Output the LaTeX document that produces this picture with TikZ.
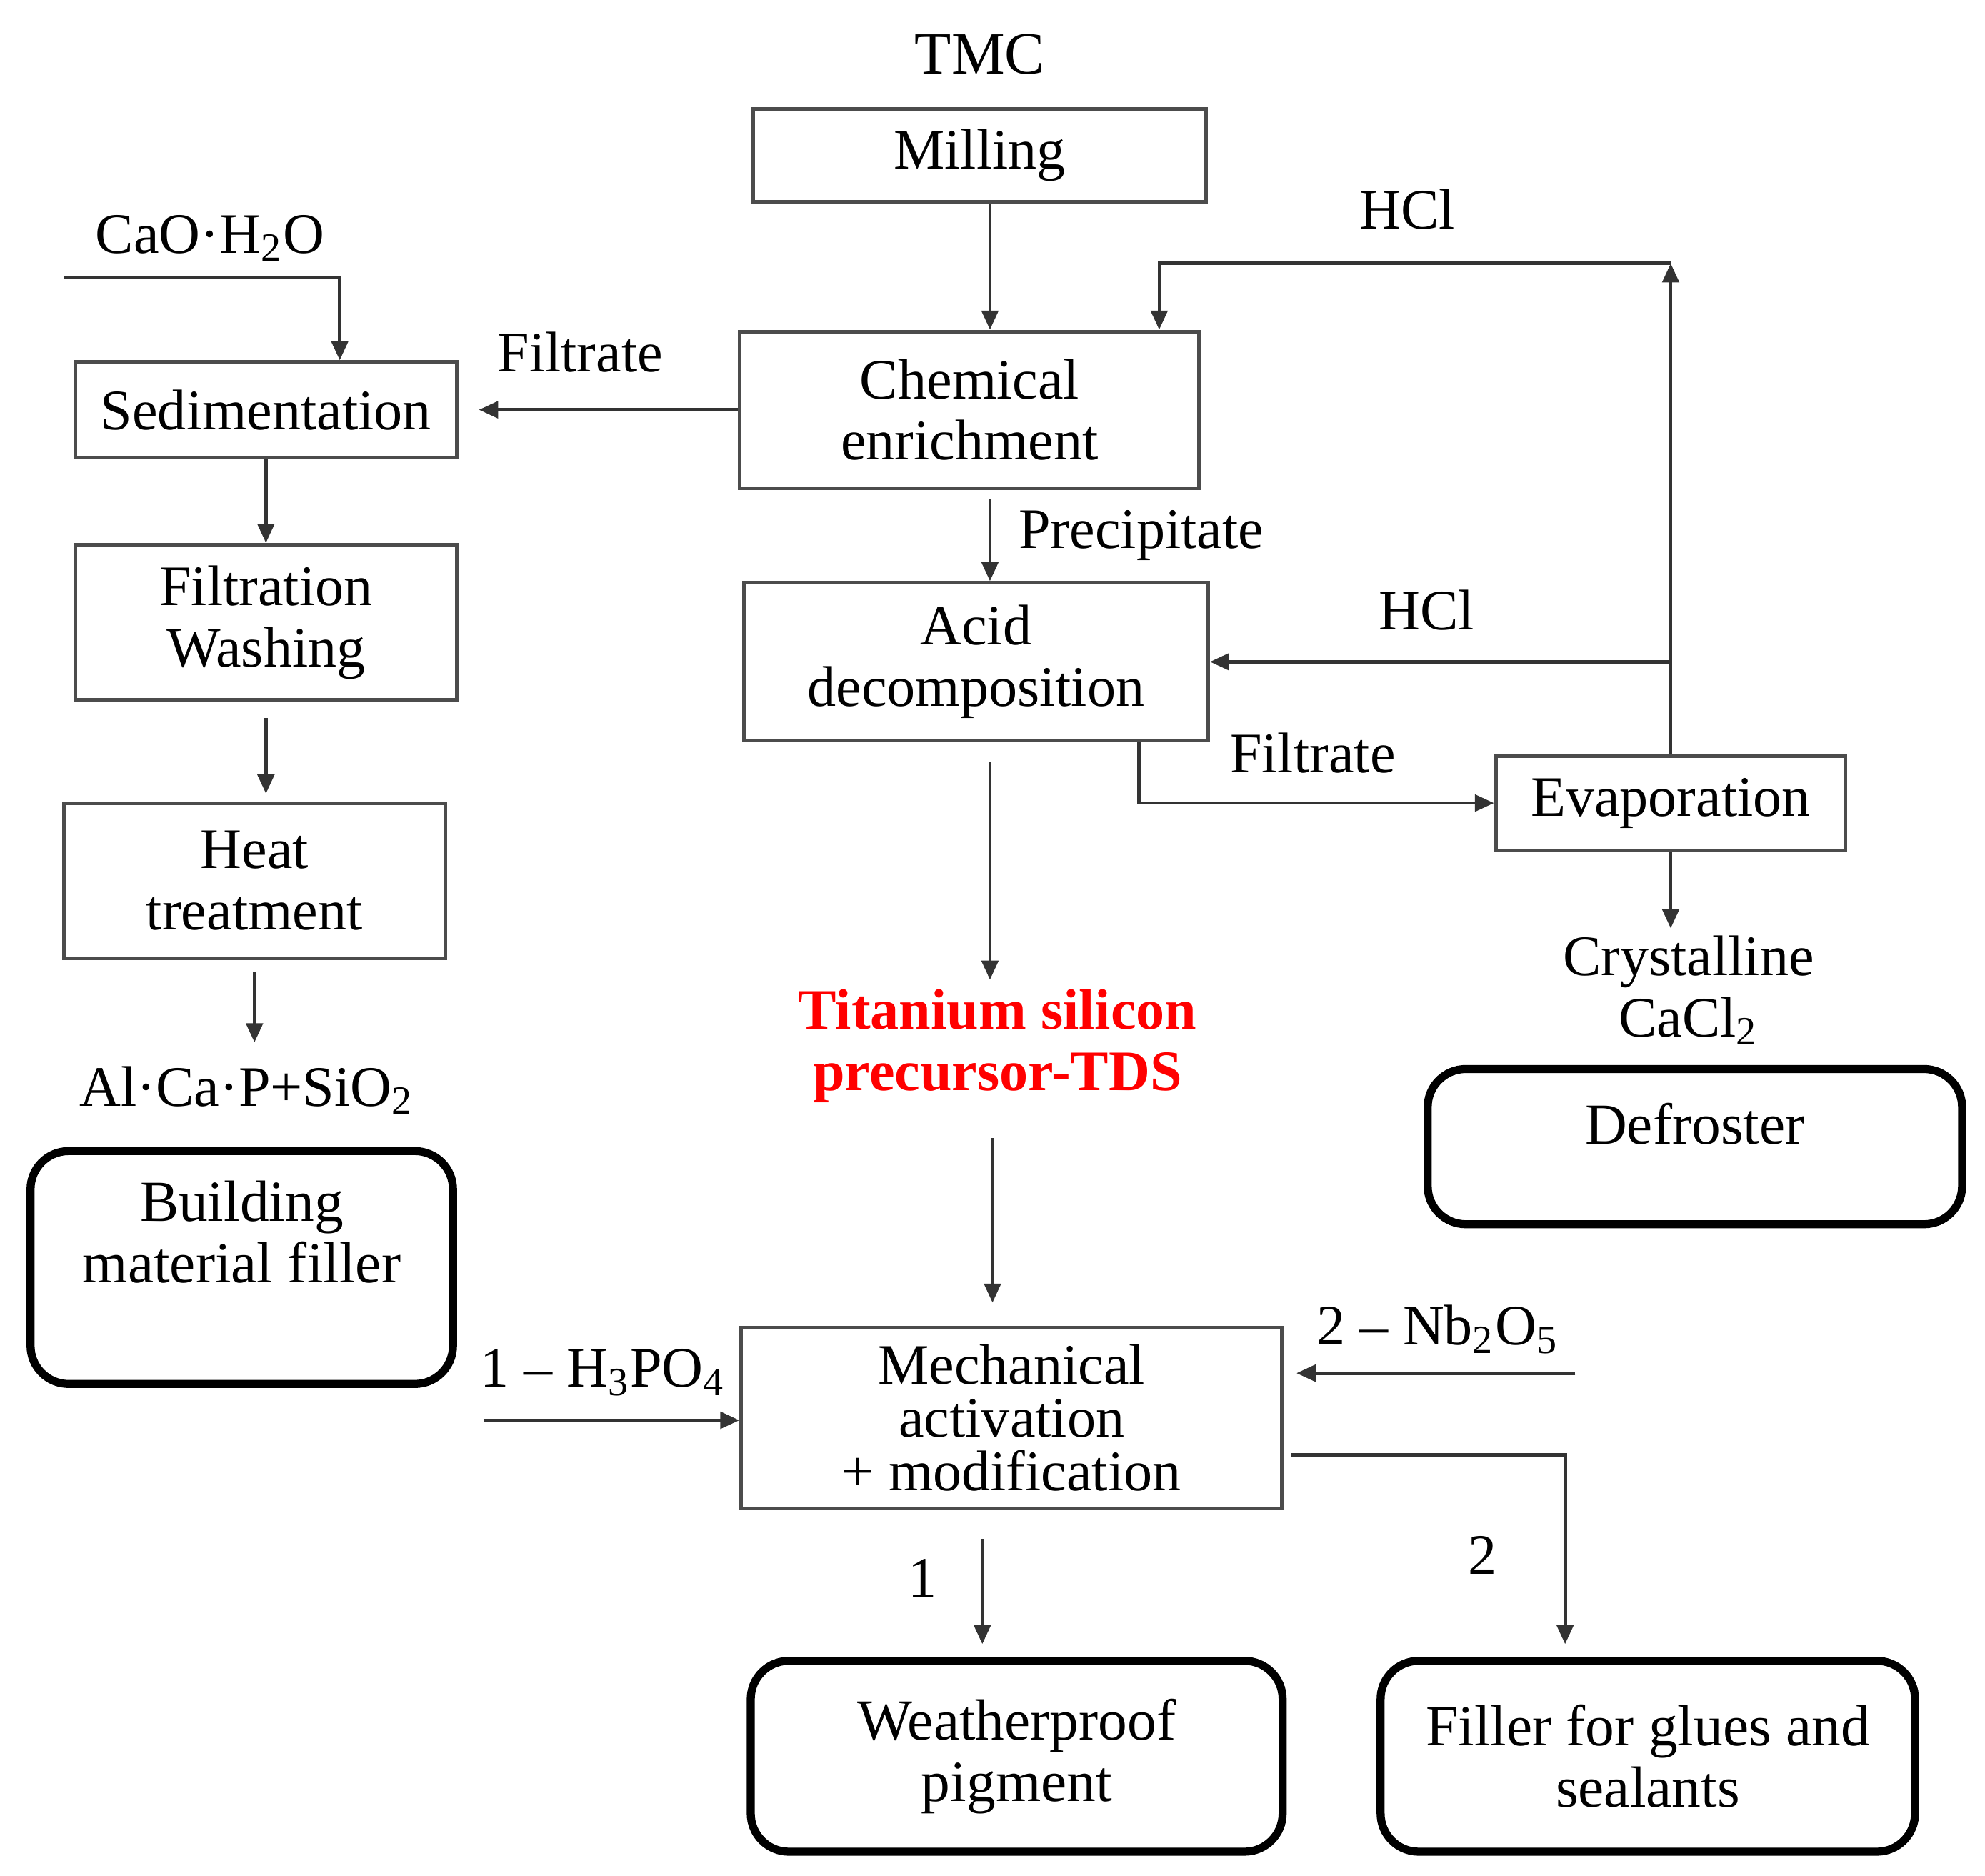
\documentclass[tikz,border=0pt]{standalone}
\usepackage{fontspec}
\setmainfont{Liberation Serif}
\usetikzlibrary{arrows.meta}

\begin{document}
\begin{tikzpicture}[x=0.1mm, y=-0.1mm, >={Triangle[length=1.5mm,width=1.3mm]}]
    \useasboundingbox (0,0) rectangle (1560,1473.6);

    \begin{scope}[every node/.style={draw=black!70,line width=0.8pt,inner sep=0pt,align=center,font=\fontsize{12.8}{13.7}\selectfont}]
        \node[minimum width=35.6mm,minimum height=7.3mm] (mill) at (770,122) {Milling};
        \node[minimum width=36.1mm,minimum height=12.3mm] (chem) at (762,322) {Chemical\\enrichment};
        \node[minimum width=30mm,minimum height=7.5mm] (sed) at (209,322) {Sedimentation};
        \node[minimum width=30mm,minimum height=12.2mm] (filt) at (209,489) {Filtration\\Washing};
        \node[minimum width=30mm,minimum height=12.2mm] (heat) at (200,692) {Heat\\treatment};
        \node[minimum width=36.5mm,minimum height=12.4mm] (acid) at (767,520) {Acid\\decomposition};
        \node[minimum width=27.5mm,minimum height=7.4mm] (evap) at (1313,631) {Evaporation};
        \node[minimum width=42.5mm,minimum height=14.2mm,font=\fontsize{12.8}{11.9}\selectfont] (mech) at (795,1114) {Mechanical\\activation\\+ modification};
    \end{scope}

    \begin{scope}[every node/.style={draw,line width=1.8pt,rounded corners=3mm,inner sep=0pt,align=center,font=\fontsize{13}{13.7}\selectfont}]
        \node[minimum width=33.2mm,minimum height=18.3mm] (build) at (190,996) {Building\\material filler\\[0.8mm]\mbox{}};
        \node[minimum width=42mm,minimum height=12.2mm,text depth=3.6mm] (defr) at (1332,901) {Defroster};
        \node[minimum width=41.8mm,minimum height=15mm] (weather) at (799,1380) {Weatherproof\\pigment};
        \node[minimum width=42mm,minimum height=15mm] (filler) at (1295,1380) {Filler for glues and\\sealants};
    \end{scope}

    \begin{scope}[every node/.style={inner sep=0pt,align=center,font=\fontsize{12.8}{13.7}\selectfont}]
        \node[anchor=base,font=\fontsize{13.4}{14}\selectfont] (tmc) at (770,58) {TMC};
        \node[anchor=base] (hcla) at (1106,180) {HCl};
        \node[anchor=base] (hclb) at (1121,495) {HCl};
        \node[anchor=base] (filtra) at (456,292) {Filtrate};
        \node[anchor=base] (cao) at (165,199) {CaO·H\textsubscript{2}O};
        \node[anchor=base west] (prec) at (800,431) {Precipitate};
        \node[anchor=base west] (filtrb) at (966,607) {Filtrate};
        \node (cacl) at (1327,778) {Crystalline\\CaCl\textsubscript{2}};
        \node[anchor=base] (alcap) at (194,869) {Al·Ca·P+SiO\textsubscript{2}};
        \node[text=red,font=\fontsize{12.8}{13.7}\selectfont\bfseries] (tds) at (784,822) {Titanium silicon\\precursor-TDS};
        \node[anchor=base] (hpo) at (474,1090) {1 – H\textsubscript{3}PO\textsubscript{4}};
        \node[anchor=base] (nbo) at (1130,1057) {2 – Nb\textsubscript{2}O\textsubscript{5}};
        \node[anchor=base] (one) at (725,1255) {1};
        \node[anchor=base] (two) at (1165,1237) {2};
    \end{scope}

    \begin{scope}[draw=black!80,line width=0.75pt]
        % main line
        \coordinate (mx) at (778,0);
        \coordinate (tx) at (780,0);
        \draw[->] (mill.south -| mx) -- (chem.north -| mx);
        \draw[->,shorten <=0.7mm] (chem.south -| mx) -- (acid.north -| mx);
        \draw[->,shorten <=1.5mm,shorten >=0.7mm] (acid.south -| mx) -- (tds.north -| mx);
        \draw[->,shorten <=2.7mm,shorten >=1.8mm] (tds.south -| tx) -- (mech.north -| tx);

        % HCl back to the start
        \coordinate (hcltop) at (1313,207);
        \coordinate (hclin) at (911,207);
        \draw[->] (evap.north) -- (hcltop);
        \draw[->] (hcltop) -- (hclin) -- (hclin |- chem.north);
        \draw[->] (evap.north |- acid.east) -- (acid.east);

        % filtrates
        \coordinate (fx) at (895,0);
        \draw[->,shorten >=1.6mm] (chem.west) -- (sed.east);
        \draw[->] (acid.south -| fx) |- (evap.west);
        \draw[->,shorten >=0.5mm] (evap.south) -- (evap.south |- cacl.north);

        % left column
        \coordinate (caostart) at (50,218);
        \coordinate (caoin) at (267,218);
        \draw[->] (caostart) -- (caoin) -- (caoin |- sed.north);
        \draw[->] (sed.south) -- (filt.north);
        \draw[->,shorten <=1.3mm,shorten >=0.6mm] (filt.south) -- (filt.south |- heat.north);
        \draw[->,shorten <=0.9mm,shorten >=1.8mm] (heat.south) -- (heat.south |- alcap.north);

        % modification and products
        \coordinate (hpin) at (380,1116);
        \coordinate (nbin) at (1238,1079);
        \coordinate (out2) at (1015,1143);
        \coordinate (out2c) at (1230,1143);
        \coordinate (wx) at (772,0);
        \draw[->] (hpin) -- (hpin -| mech.west);
        \draw[->,shorten >=1mm] (nbin) -- (nbin -| mech.east);
        \draw[->,shorten >=1mm] (out2) -- (out2c) -- (out2c |- filler.north);
        \draw[->,shorten <=2.3mm,shorten >=1mm] (mech.south -| wx) -- (weather.north -| wx);
    \end{scope}

\end{tikzpicture}
\end{document}
